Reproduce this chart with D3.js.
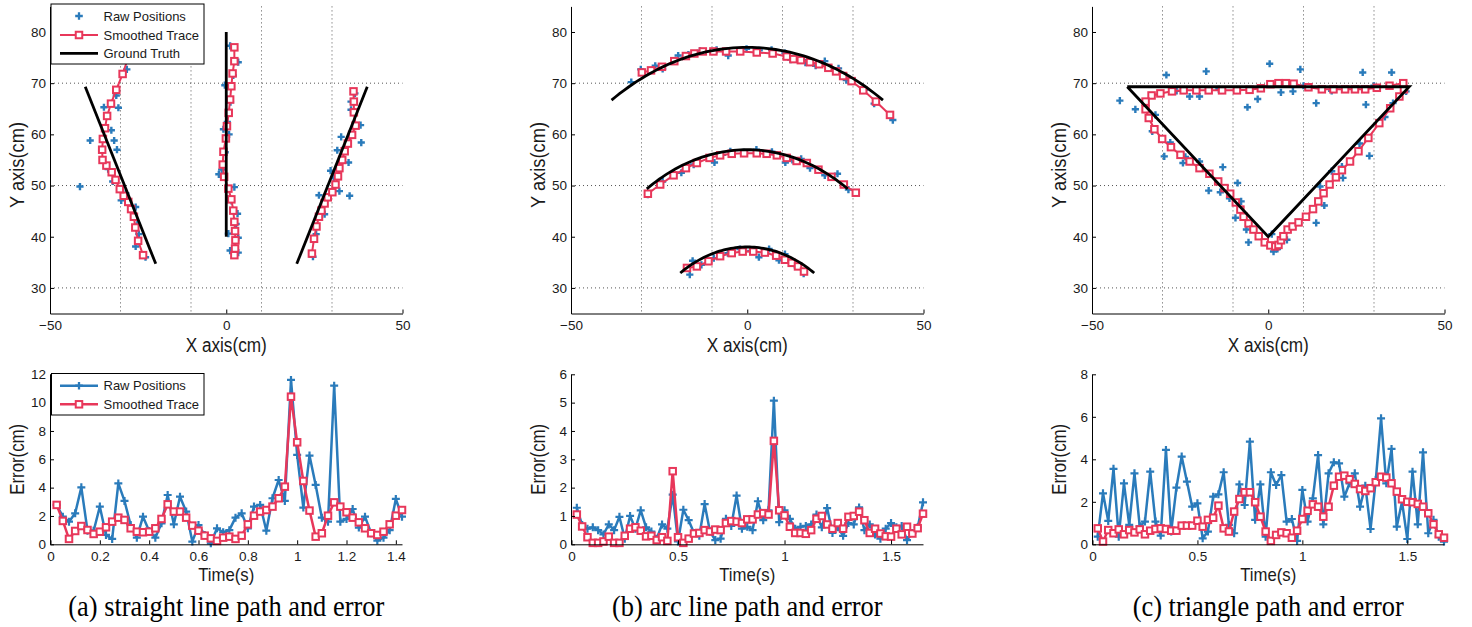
<!DOCTYPE html>
<html><head><meta charset="utf-8">
<script src="https://cdn.jsdelivr.net/npm/d3@7"></script>
<style>body{margin:0;background:#fff}svg{display:block}</style>
</head><body><svg id="chart" width="1472" height="627"></svg>
<script>
// ---------------- DATA ----------------
const captions = ["(a) straight line path and error", "(b) arc line path and error", "(c) triangle path and error"];
const legendLabels = ["Raw Positions", "Smoothed Trace", "Ground Truth"];
const posXTicks = [-50, 0, 50];
const posYTicks = [30, 40, 50, 60, 70, 80];
const gridX = [-30, -10, 10, 30];
const gridY = [30, 50, 70];
const errXTicksA = [0, 0.2, 0.4, 0.6, 0.8, 1, 1.2, 1.4];
const errXTicksBC = [0, 0.5, 1, 1.5];
const errYTicksA = [0, 2, 4, 6, 8, 10, 12];
const errYTicksB = [0, 1, 2, 3, 4, 5, 6];
const errYTicksC = [0, 2, 4, 6, 8];

// ground truth geometry
const straightTruth = [[[-40, 69.3], [-20, 34.7]], [[0, 40], [0, 80]], [[20, 34.7], [40, 69.3]]];
const arcRadii = [77, 57, 38];
const arcAnglesDeg = [60, 120];
const triangleTruth = [[-40, 69.3], [40, 69.3], [0, 40], [-40, 69.3]];

// (a) straight-line positions
const aSmoothLeft = [[-23.6,36.4],[-25.0,39.2],[-25.8,41.8],[-26.2,43.9],[-27.0,45.4],[-27.8,46.8],[-29.1,48.0],[-30.2,49.3],[-31.4,51.1],[-32.5,52.6],[-34.0,53.9],[-35.1,55.0],[-35.2,57.0],[-35.0,59.1],[-34.4,61.2],[-33.8,63.6],[-32.7,66.0],[-31.2,68.7],[-29.4,71.8],[-27.8,75.0]];
const aSmoothMid = [[2.3,36.4],[2.5,37.7],[2.6,39.3],[2.5,41.1],[2.3,42.9],[2.0,45.1],[1.45,47.3],[0.6,49.4],[-0.6,51.7],[-1.0,54.1],[-0.8,56.6],[-0.1,59.2],[0.2,61.6],[0.7,64.2],[1.1,66.8],[1.45,69.4],[1.8,71.9],[2.3,74.3],[2.3,77.0]];
const aSmoothRight = [[24.3,36.7],[24.9,39.6],[25.6,42.0],[26.3,43.9],[27.0,45.1],[27.9,46.5],[28.8,47.7],[30.1,48.7],[31.0,50.2],[31.7,51.8],[32.1,53.4],[32.9,55.0],[33.6,56.7],[34.5,58.2],[35.7,59.9],[36.7,61.7],[36.2,64.3],[36.2,66.4],[36.1,68.4]];
const aRaw = [[-22.9,36.0],[-25.7,38.1],[-24.8,40.5],[-25.2,42.5],[-25.7,45.8],[-29.8,47.1],[-28.5,48.5],[-41.5,49.8],[-32.2,50.8],[-33.5,53.2],[-31.0,57.0],[-38.6,58.8],[-31.8,58.8],[-32.6,60.8],[-34.7,65.3],[-30.6,65.2],[-31.2,67.6],[-28.2,72.7],
  [3.4,36.9],[1.1,37.3],[3.4,39.8],[0.6,40.6],[2.8,42.5],[3.2,44.5],[1.5,47.0],[2.3,49.7],[-2.1,52.2],[-1.3,53.1],[-0.3,56.5],[0.8,60.0],[-0.8,61.0],[0.3,62.4],[1.2,66.3],[-0.4,69.6],[2.0,71.5],[3.4,74.1],[1.1,77.3],
  [24.6,36.1],[25.5,40.5],[27.9,44.4],[26.3,48.1],[32.1,48.9],[35.0,48.0],[30.5,51.5],[29.6,52.9],[34.7,54.5],[31.5,56.9],[32.6,59.5],[38.3,58.4],[38.1,61.8],[35.4,64.8],[35.4,66.4],[36.5,68.0],[33.8,57.5]];

// (b) arc positions
const bSmoothTop = [[-29.9,72.1],[-27.3,72.5],[-24.2,73.2],[-20.7,74.3],[-17.4,75.3],[-15.0,75.8],[-12.6,76.2],[-9.6,76.2],[-6.0,76.2],[-2.0,76.2],[2.7,76.0],[7.2,75.8],[11.2,75.2],[13.1,74.7],[15.2,74.5],[17.8,74.1],[20.4,73.7],[23.0,73.0],[25.2,72.3],[27.2,71.4],[29.6,70.4],[32.9,68.6],[36.5,66.4],[40.5,63.8]];
const bSmoothMid = [[-28.2,48.4],[-24.7,50.2],[-20.9,52.0],[-17.4,53.4],[-14.3,54.4],[-10.7,55.4],[-7.7,55.9],[-4.4,56.2],[-0.9,56.3],[2.7,56.3],[5.5,56.2],[8.4,55.9],[11.2,55.4],[14.0,54.8],[16.9,54.4],[20.2,53.1],[23.9,51.7],[27.4,50.2],[30.8,48.6]];
const bSmoothLow = [[-17.1,33.9],[-14.3,34.2],[-11.0,35.2],[-7.7,36.2],[-4.4,36.8],[-1.3,37.1],[1.7,37.1],[5.0,36.9],[8.2,36.3],[10.7,35.5],[12.6,34.9],[14.4,34.2],[16.1,33.2]];
const bRaw = [[-32.9,70.2],[-30.2,72.7],[-26.1,73.4],[-24.0,72.8],[-19.6,75.4],[-16.7,75.6],[-13.4,76.3],[-8.7,76.5],[-5.4,75.4],[-0.2,76.7],[3.4,76.4],[6.9,76.5],[10.7,75.9],[12.3,74.6],[16.5,74.0],[19.4,73.4],[22.0,74.3],[25.9,72.9],[28.1,70.6],[33.3,68.7],[36.0,66.0],[41.3,62.8],
  [-28.2,48.2],[-24.0,50.8],[-18.7,52.5],[-15.2,54.1],[-9.3,54.5],[-7.0,56.0],[-4.8,56.7],[-1.0,56.5],[2.6,57.0],[7.0,56.6],[10.8,54.5],[12.8,55.0],[15.3,55.2],[17.8,53.4],[22.0,52.0],[25.6,52.3],[28.7,49.2],
  [-16.3,32.6],[-15.5,35.3],[-13.0,34.5],[-9.5,35.8],[-5.5,36.8],[-2.1,37.6],[1.0,37.2],[3.3,36.0],[6.2,37.6],[9.0,35.4],[10.7,36.6],[13.5,34.5],[16.0,32.8]];

// (c) triangle positions
const cSmooth = [[-34.8,64.9],[-33.9,63.2],[-32.3,61.0],[-30.1,59.1],[-27.6,57.5],[-24.9,56.0],[-22.3,54.7],[-19.5,53.4],[-16.7,52.3],[-14.2,50.8],[-12.4,49.5],[-10.8,48.4],[-9.2,46.7],[-7.9,45.3],[-7.0,43.9],[-5.6,42.6],[-4.2,41.4],[-2.7,40.1],[-1.0,38.9],[0.6,38.3],[2.0,38.1],[2.9,38.4],[3.6,39.3],[4.3,40.1],[5.5,41.4],[6.9,42.0],[8.6,42.8],[10.7,43.9],[12.7,45.4],[14.2,46.9],[15.7,48.5],[17.4,50.2],[19.2,51.6],[20.9,53.0],[23.2,54.7],[25.6,56.7],[28.4,59.3],[31.5,62.2],[34.6,65.1],[37.2,67.4],[38.5,68.8],[38.3,70.0],
  [34.4,69.5],[30.8,69.1],[27.5,68.8],[24.6,68.8],[21.8,68.8],[18.5,68.8],[15.2,68.8],[11.4,69.2],[7.2,69.9],[5.0,70.0],[2.9,70.0],[0.6,69.8],[-2.1,69.0],[-5.3,68.7],[-8.9,68.6],[-13.1,68.6],[-16.9,68.6],[-20.4,68.6],[-24.0,68.6],[-27.3,68.4],[-30.6,68.0],[-33.1,67.6],[-34.8,66.4]];
const cRaw = [[-42.1,66.6],[-37.7,64.9],[-32.0,63.8],[-32.9,60.6],[-29.5,55.7],[-28.9,71.6],[-27.8,58.4],[-24.2,54.4],[-22.3,67.4],[-23.5,55.6],[-19.5,67.4],[-19.5,54.7],[-17.6,72.3],[-16.9,49.0],[-13.6,48.7],[-12.9,53.6],[-9.3,43.7],[-8.7,50.5],[-7.7,46.9],[-6.2,41.4],[-5.6,38.9],[-5.9,65.3],[-3.0,66.9],[0.4,73.8],[1.5,37.1],[2.6,37.6],[3.6,68.2],[5.3,39.4],[7.0,68.4],[9.1,72.7],[13.6,66.1],[13.6,42.7],[14.7,49.8],[15.9,46.1],[18.0,52.8],[20.9,53.7],[21.2,51.5],[25.9,58.2],[26.8,72.1],[27.7,65.8],[28.7,55.8],[35.0,72.1],[33.1,63.4],[35.4,66.1],[39.1,68.4],[-11.0,47.5],[1.0,40.5],[10.0,69.5],[-26.0,68.5],[30.0,69.5],[-14.0,68.8],[18.0,68.5]];

// error series (time in s, error in cm)
const timeA = [0.025,0.05,0.075,0.1,0.125,0.15,0.175,0.2,0.225,0.25,0.275,0.3,0.325,0.35,0.375,0.4,0.425,0.45,0.475,0.5,0.525,0.55,0.575,0.6,0.625,0.65,0.675,0.7,0.725,0.75,0.775,0.8,0.825,0.85,0.875,0.9,0.925,0.95,0.975,1.0,1.025,1.05,1.075,1.1,1.125,1.15,1.175,1.2,1.225,1.25,1.275,1.3,1.325,1.35,1.375,1.4,1.425];
const errRawA = [2.78,1.95,1.6,2.19,4.02,0.96,0.96,2.66,0.66,0.38,4.3,3.06,1.36,0.47,1.95,0.94,0.47,1.48,3.48,1.41,3.36,2.31,0.19,1.36,0.66,0.07,1.13,0.85,1.0,1.88,2.19,1.13,2.66,2.78,0.96,3.25,4.54,3.06,11.6,6.31,2.59,6.26,4.19,1.88,1.6,11.2,1.6,1.79,2.49,1.18,1.95,0.78,0.26,0.47,1.0,3.2,1.95];
const errSmoothA = [2.78,1.65,0.38,0.94,1.29,1.01,0.73,0.89,1.2,1.6,1.88,1.72,1.13,0.89,0.85,0.89,1.13,1.79,2.82,2.31,2.31,1.88,1.32,0.96,0.61,0.42,0.24,0.47,0.54,0.38,0.61,1.41,2.02,2.31,2.42,2.66,3.25,4.07,10.42,7.2,4.47,2.38,0.54,0.78,2.02,2.96,2.66,2.26,1.88,1.55,1.13,0.78,0.66,0.89,1.41,2.02,2.42];
const timeB = [0.025,0.05,0.075,0.1,0.125,0.15,0.175,0.2,0.225,0.25,0.275,0.3,0.325,0.35,0.375,0.4,0.425,0.45,0.475,0.5,0.525,0.55,0.575,0.6,0.625,0.65,0.675,0.7,0.725,0.75,0.775,0.8,0.825,0.85,0.875,0.9,0.925,0.95,0.975,1.0,1.025,1.05,1.075,1.1,1.125,1.15,1.175,1.2,1.225,1.25,1.275,1.3,1.325,1.35,1.375,1.4,1.425,1.45,1.475,1.5,1.525,1.55,1.575,1.6,1.625,1.65];
const errRawB = [1.29,0.68,0.55,0.6,0.5,0.35,0.7,0.5,0.97,0.2,1.0,0.55,1.2,0.6,0.45,0.2,0.7,0.55,1.75,0.1,1.22,0.85,0.4,0.3,1.42,0.45,0.15,0.2,0.9,0.65,1.72,0.55,0.62,0.5,1.52,0.85,1.2,5.07,0.78,1.2,0.9,0.55,0.62,0.65,0.7,1.05,0.6,1.28,0.4,0.6,0.3,0.75,0.7,1.3,0.5,0.7,0.35,0.2,0.55,0.75,0.6,0.65,0.15,0.4,0.6,1.48];
const errSmoothB = [1.05,0.63,0.25,0.05,0.05,0.1,0.27,0.05,0.05,0.3,0.55,0.6,0.48,0.28,0.3,0.15,0.25,0.12,2.58,0.25,0.05,0.2,0.38,0.4,0.5,0.45,0.52,0.5,0.75,0.82,0.8,0.75,0.88,0.88,1.05,1.1,1.05,3.65,1.2,1.02,0.62,0.4,0.4,0.37,0.5,0.9,1.0,0.7,0.55,0.75,0.55,0.97,1.0,1.15,0.85,0.4,0.55,0.38,0.28,0.27,0.55,0.35,0.62,0.38,0.57,1.08];
const timeC = [0.025,0.05,0.075,0.1,0.125,0.15,0.175,0.2,0.225,0.25,0.275,0.3,0.325,0.35,0.375,0.4,0.425,0.45,0.475,0.5,0.525,0.55,0.575,0.6,0.625,0.65,0.675,0.7,0.725,0.75,0.775,0.8,0.825,0.85,0.875,0.9,0.925,0.95,0.975,1.0,1.025,1.05,1.075,1.1,1.125,1.15,1.175,1.2,1.225,1.25,1.275,1.3,1.325,1.35,1.375,1.4,1.425,1.45,1.475,1.5,1.525,1.55,1.575,1.6,1.625,1.65,1.675];
const errRawC = [0.36,2.4,1.1,3.55,0.36,2.87,0.91,3.34,0.85,1.07,3.42,1.07,0.41,4.44,0.6,2.67,4.13,2.95,1.77,1.93,0.28,0.6,2.24,2.35,3.39,0.91,0.52,2.82,1.85,4.83,1.15,2.82,0.36,3.39,2.79,3.26,1.07,1.19,0.16,2.56,1.07,2.16,4.2,0.94,3.34,3.86,3.81,2.24,2.87,3.34,1.77,2.76,0.72,3.03,5.93,2.87,4.49,0.83,2.0,0.25,3.42,0.94,4.33,0.52,1.15,0.36,0.13];
const errSmoothC = [0.75,0.13,0.67,0.52,0.7,0.47,0.67,0.56,0.7,0.47,0.64,0.72,0.75,0.72,0.64,0.64,0.88,0.88,0.88,1.11,0.83,1.15,1.25,1.82,0.75,0.6,1.54,2.13,2.45,2.45,1.98,1.3,0.6,0.16,0.44,0.56,0.52,0.31,0.64,1.19,1.58,1.88,1.77,1.3,1.77,2.76,3.18,3.23,3.06,2.84,2.6,2.51,2.64,2.92,3.18,3.14,2.87,2.48,2.12,2.0,1.98,1.9,1.77,1.46,0.94,0.47,0.31];

// ---------------- DRAWING ----------------
const BLUE = "#2a7bbb", RED = "#e8375a", INK = "#1a1a1a";
const FONT = "'Liberation Sans', Arial, Helvetica, sans-serif";
const SERIF = "'Liberation Serif', 'Times New Roman', serif";
const svg = d3.select("#chart");
const panelLeft = [50, 571, 1092];
const plotW = 352.5;
const posYRange = [313.5, 6.4];
const errYRange = [544.3, 374.3];

function fmtTick(d) { return d < 0 ? "\u2212" + Math.abs(d) : String(d); }

function condense(sel, ratio) {
  sel.each(function () {
    const w = this.getComputedTextLength();
    d3.select(this).attr("textLength", w * ratio).attr("lengthAdjust", "spacingAndGlyphs");
  });
}

function styleAxis(g, fs) {
  g.selectAll(".domain").attr("stroke", "#000").attr("stroke-width", 1);
  g.selectAll(".tick line").attr("stroke", "#000").attr("stroke-width", 1);
  g.selectAll(".tick text").attr("fill", INK).style("font-family", FONT).style("font-size", (fs || 14) + "px");
}

function plusPath(s) { return `M${-s},0H${s}M0,${-s}V${s}`; }

function drawPlus(g, pts, x, y, s, sw) {
  g.selectAll(null).data(pts).join("path")
    .attr("transform", d => `translate(${x(d[0])},${y(d[1])})`)
    .attr("d", plusPath(s)).attr("stroke", BLUE).attr("stroke-width", sw).attr("fill", "none");
}
function drawSquares(g, pts, x, y, s, sw) {
  g.selectAll(null).data(pts).join("rect")
    .attr("x", d => x(d[0]) - s / 2).attr("y", d => y(d[1]) - s / 2)
    .attr("width", s).attr("height", s)
    .attr("fill", "#fff").attr("stroke", RED).attr("stroke-width", sw);
}

function positionPanel(i, rawPts, smoothSegs, truthSegs) {
  const left = panelLeft[i];
  const x = d3.scaleLinear().domain([-50, 50]).range([left, left + plotW]);
  const y = d3.scaleLinear().domain([25, 85]).range(posYRange);
  const g = svg.append("g");
  g.selectAll(null).data(gridX).join("line")
    .attr("x1", d => x(d)).attr("x2", d => x(d)).attr("y1", y(85)).attr("y2", y(25))
    .attr("stroke", "#555").attr("stroke-width", 1).attr("stroke-dasharray", "1,3");
  g.selectAll(null).data(gridY).join("line")
    .attr("x1", x(-50)).attr("x2", x(50)).attr("y1", d => y(d)).attr("y2", d => y(d))
    .attr("stroke", "#555").attr("stroke-width", 1).attr("stroke-dasharray", "1,3");
  drawPlus(g, rawPts, x, y, 3.6, 2.4);
  const line = d3.line().x(d => x(d[0])).y(d => y(d[1]));
  smoothSegs.forEach(seg => {
    g.append("path").attr("d", line(seg)).attr("fill", "none").attr("stroke", RED).attr("stroke-width", 2);
    drawSquares(g, seg, x, y, 6.5, 2);
  });
  truthSegs.forEach(seg => {
    g.append("path").attr("d", line(seg)).attr("fill", "none").attr("stroke", "#000").attr("stroke-width", 2.8);
  });
  const ax = g.append("g").attr("transform", `translate(0,${posYRange[0]})`)
    .call(d3.axisBottom(x).tickValues(posXTicks).tickFormat(fmtTick).tickSizeInner(-4).tickSizeOuter(0).tickPadding(7));
  styleAxis(ax, 13.5);
  const ay = g.append("g").attr("transform", `translate(${left},0)`)
    .call(d3.axisLeft(y).tickValues(posYTicks).tickFormat(fmtTick).tickSizeInner(-4).tickSizeOuter(0).tickPadding(4));
  styleAxis(ay, 13.5);
  const xl = g.append("text").attr("x", left + plotW / 2).attr("y", 351.5).attr("text-anchor", "middle")
    .style("font-family", FONT).style("font-size", "20px").attr("fill", INK).text("X axis(cm)");
  condense(xl, 0.86);
  const yl = g.append("text").attr("transform", `translate(${left - 26},165) rotate(-90)`).attr("text-anchor", "middle")
    .style("font-family", FONT).style("font-size", "21px").attr("fill", INK).text("Y axis(cm)");
  condense(yl, 0.87);
  return { x, y, g };
}

function errorPanel(i, time, raw, smooth, xTicks, yTicks, yMax) {
  const left = panelLeft[i];
  const x = d3.scaleLinear().domain([0, time[time.length - 1]]).range([left + 0.5, left + 352]);
  const y = d3.scaleLinear().domain([0, yMax]).range(errYRange);
  const g = svg.append("g");
  const rawPts = time.map((t, k) => [t, raw[k]]);
  const smPts = time.map((t, k) => [t, smooth[k]]);
  const line = d3.line().x(d => x(d[0])).y(d => y(d[1]));
  g.append("path").attr("d", line(rawPts)).attr("fill", "none").attr("stroke", BLUE).attr("stroke-width", 2.5).attr("stroke-linejoin", "round");
  drawPlus(g, rawPts, x, y, 4, 2.2);
  g.append("path").attr("d", line(smPts)).attr("fill", "none").attr("stroke", RED).attr("stroke-width", 2.5).attr("stroke-linejoin", "round");
  drawSquares(g, smPts, x, y, 6.5, 2);
  const ax = g.append("g").attr("transform", `translate(0,${errYRange[0]})`)
    .call(d3.axisBottom(x).tickValues(xTicks).tickFormat(fmtTick).tickSizeInner(-4).tickSizeOuter(0).tickPadding(7));
  styleAxis(ax, 13.5);
  const ay = g.append("g").attr("transform", `translate(${left},0)`)
    .call(d3.axisLeft(y).tickValues(yTicks).tickFormat(fmtTick).tickSizeInner(-4).tickSizeOuter(0).tickPadding(4));
  styleAxis(ay, 13.5);
  const xl = g.append("text").attr("x", left + plotW / 2).attr("y", 581).attr("text-anchor", "middle")
    .style("font-family", FONT).style("font-size", "19px").attr("fill", INK).text("Time(s)");
  condense(xl, 0.88);
  const yl = g.append("text").attr("transform", `translate(${left - 26},${(errYRange[0] + errYRange[1]) / 2}) rotate(-90)`).attr("text-anchor", "middle")
    .style("font-family", FONT).style("font-size", "21px").attr("fill", INK).text("Error(cm)");
  condense(yl, 0.8);
  const cap = svg.append("text").attr("x", left + plotW / 2).attr("y", 616).attr("text-anchor", "middle")
    .style("font-family", SERIF).style("font-size", "30px").attr("fill", "#000").text(captions[i]);
  condense(cap, 0.88);
  return g;
}

const arcSegs = arcRadii.map(r => d3.range(arcAnglesDeg[0], arcAnglesDeg[1] + 0.5, 1)
  .map(a => [r * Math.cos(a * Math.PI / 180), r * Math.sin(a * Math.PI / 180)]));

positionPanel(0, aRaw, [aSmoothLeft, aSmoothMid, aSmoothRight], straightTruth);
positionPanel(1, bRaw, [bSmoothTop, bSmoothMid, bSmoothLow], arcSegs);
positionPanel(2, cRaw, [cSmooth], [triangleTruth]);

errorPanel(0, timeA, errRawA, errSmoothA, errXTicksA, errYTicksA, 12);
errorPanel(1, timeB, errRawB, errSmoothB, errXTicksBC, errYTicksB, 6);
errorPanel(2, timeC, errRawC, errSmoothC, errXTicksBC, errYTicksC, 8);

function legend(x0, y0, w, h, rows) {
  const g = svg.append("g");
  g.append("rect").attr("x", x0).attr("y", y0).attr("width", w).attr("height", h)
    .attr("fill", "#fff").attr("stroke", "#000").attr("stroke-width", 1);
  rows.forEach(r => {
    if (r.line) g.append("line").attr("x1", 60).attr("x2", 98).attr("y1", r.y).attr("y2", r.y)
      .attr("stroke", r.color).attr("stroke-width", r.lw);
    if (r.marker === "plus") g.append("path").attr("transform", `translate(79,${r.y})`).attr("d", plusPath(3.8))
      .attr("stroke", BLUE).attr("stroke-width", 2.3).attr("fill", "none");
    if (r.marker === "square") g.append("rect").attr("x", 79 - 3.25).attr("y", r.y - 3.25).attr("width", 6.5).attr("height", 6.5)
      .attr("fill", "#fff").attr("stroke", RED).attr("stroke-width", 2);
    g.append("text").attr("x", 103.5).attr("y", r.y).attr("dy", "0.36em")
      .style("font-family", FONT).style("font-size", "13px").attr("fill", INK).text(r.label);
  });
}
legend(51, 4, 153, 60, [
  { y: 16, label: legendLabels[0], marker: "plus" },
  { y: 35, label: legendLabels[1], marker: "square", line: true, color: RED, lw: 2 },
  { y: 53.3, label: legendLabels[2], line: true, color: "#000", lw: 2.8 }
]);
legend(51.5, 373.5, 152.5, 41.5, [
  { y: 385.7, label: legendLabels[0], marker: "plus", line: true, color: BLUE, lw: 2.5 },
  { y: 404.3, label: legendLabels[1], marker: "square", line: true, color: RED, lw: 2.5 }
]);
</script></body></html>
